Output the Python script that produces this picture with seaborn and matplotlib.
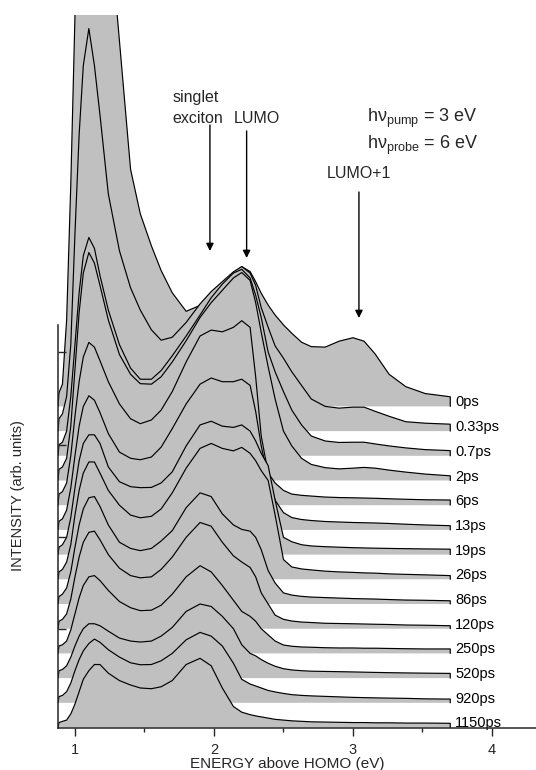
import matplotlib
matplotlib.use("Agg")
import matplotlib.pyplot as plt
import seaborn as sns
import pandas as pd

# ---------------- data ----------------
energy = [0.878, 0.885, 0.91, 0.94, 0.97, 1.00, 1.03, 1.06, 1.10, 1.14, 1.18, 1.24,
          1.32, 1.40, 1.47, 1.55, 1.62, 1.70, 1.80, 1.90, 1.98, 2.06, 2.14, 2.20,
          2.26, 2.30, 2.34, 2.39, 2.44, 2.50, 2.56, 2.63, 2.70, 2.80, 2.90, 3.00,
          3.08, 3.16, 3.26, 3.38, 3.52, 3.70]

delays = ["0ps", "0.33ps", "0.7ps", "2ps", "6ps", "13ps", "19ps", "26ps",
          "86ps", "120ps", "250ps", "520ps", "920ps", "1150ps"]

s_0ps = [0.0, 0.55, 0.9, 3.5, 9.0, 15.8, 21.0, 24.0, 25.5, 25.0, 23.5, 20.0,
         14.8, 9.6, 7.8, 6.5, 5.5, 4.6, 3.85, 4.09, 4.6, 4.9, 5.39, 5.66,
         5.46, 5.05, 4.58, 4.1, 3.7, 3.3, 2.96, 2.6, 2.42, 2.4, 2.64, 2.78,
         2.64, 2.12, 1.3, 0.8, 0.52, 0.39]
s_033ps = [0.0, 0.5, 0.7, 1.4, 3.5, 8.0, 12.0, 14.8, 16.3, 14.8, 12.8, 9.6,
           7.3, 5.8, 4.9, 4.1, 3.68, 3.8, 4.4, 5.15, 5.65, 6.05, 6.45, 6.66,
           6.4, 5.9, 5.0, 4.2, 3.45, 2.95, 2.4, 1.85, 1.3, 1.0, 0.93, 0.97,
           0.97, 0.8, 0.6, 0.38, 0.32, 0.28]
s_07ps = [0.0, 0.45, 0.55, 1.0, 2.4, 4.5, 6.6, 8.1, 8.84, 8.4, 7.3, 5.9,
          4.5, 3.55, 3.1, 3.1, 3.45, 4.05, 4.85, 5.7, 6.4, 6.95, 7.4, 7.55,
          7.2, 6.5, 5.6, 4.2, 3.4, 2.6, 1.85, 1.25, 0.8, 0.6, 0.54, 0.55,
          0.55, 0.48, 0.4, 0.32, 0.25, 0.21]
s_2ps = [0.0, 0.45, 0.55, 0.9, 2.2, 4.5, 6.8, 8.4, 9.23, 8.8, 7.9, 6.5,
         5.1, 4.3, 3.92, 3.9, 4.2, 4.8, 5.66, 6.6, 7.2, 7.7, 8.2, 8.42,
         8.1, 7.2, 6.0, 4.6, 3.3, 2.0, 1.4, 0.9, 0.65, 0.52, 0.47, 0.5,
         0.53, 0.5, 0.42, 0.34, 0.26, 0.19]
s_6ps = [0.0, 0.45, 0.55, 0.9, 2.0, 3.6, 5.0, 6.0, 6.59, 6.4, 5.85, 5.0,
         4.1, 3.5, 3.3, 3.45, 3.85, 4.6, 5.8, 6.85, 7.09, 7.02, 7.2, 7.47,
         7.2, 5.2, 2.8, 1.3, 0.9, 0.6, 0.45, 0.4, 0.37, 0.33, 0.31, 0.3,
         0.29, 0.28, 0.26, 0.24, 0.22, 0.21]
s_13ps = [0.0, 0.35, 0.45, 0.8, 1.7, 3.0, 4.2, 5.0, 5.43, 5.25, 4.75, 3.9,
          3.15, 2.9, 2.84, 2.95, 3.35, 4.1, 5.1, 5.9, 6.15, 6.0, 6.0, 6.1,
          5.85, 4.8, 3.4, 2.1, 1.2, 0.7, 0.5, 0.42, 0.38, 0.34, 0.32, 0.3,
          0.29, 0.28, 0.26, 0.23, 0.2, 0.17]
s_19ps = [0.0, 0.3, 0.4, 0.7, 1.5, 2.7, 3.8, 4.5, 4.85, 4.85, 4.5, 3.55,
          2.95, 2.75, 2.71, 2.72, 2.9, 3.35, 4.4, 5.25, 5.4, 5.2, 5.15, 5.25,
          5.0, 4.6, 4.1, 3.6, 2.2, 0.7, 0.52, 0.4, 0.35, 0.32, 0.3, 0.28,
          0.27, 0.26, 0.25, 0.24, 0.23, 0.22]
s_26ps = [0.0, 0.3, 0.4, 0.7, 1.4, 2.6, 3.6, 4.3, 4.75, 4.75, 4.3, 3.6,
          3.0, 2.6, 2.49, 2.55, 2.85, 3.5, 4.5, 5.3, 5.5, 5.3, 5.2, 5.34,
          5.1, 4.8, 4.4, 4.0, 2.6, 0.8, 0.5, 0.42, 0.38, 0.33, 0.3, 0.28,
          0.26, 0.25, 0.22, 0.2, 0.18, 0.15]
s_86ps = [0.0, 0.3, 0.4, 0.65, 1.3, 2.3, 3.2, 3.85, 4.3, 4.35, 3.95, 3.2,
          2.5, 2.25, 2.16, 2.25, 2.55, 2.97, 3.9, 4.5, 4.35, 3.65, 3.2, 3.02,
          2.95, 2.7, 2.2, 1.35, 0.85, 0.45, 0.36, 0.31, 0.28, 0.26, 0.24, 0.22,
          0.21, 0.2, 0.18, 0.16, 0.15, 0.13]
s_120ps = [0.0, 0.3, 0.38, 0.6, 1.2, 2.1, 2.9, 3.5, 3.9, 3.95, 3.6, 3.0,
           2.45, 2.15, 2.06, 2.1, 2.4, 2.9, 3.7, 4.3, 4.15, 3.5, 2.95, 2.7,
           2.48, 2.1, 1.45, 1.0, 0.55, 0.38, 0.31, 0.27, 0.25, 0.22, 0.21, 0.2,
           0.19, 0.18, 0.17, 0.15, 0.14, 0.12]
s_250ps = [0.0, 0.3, 0.35, 0.5, 0.95, 1.6, 2.25, 2.75, 3.1, 3.15, 2.95, 2.55,
           2.1, 1.85, 1.73, 1.75, 1.95, 2.4, 3.1, 3.55, 3.3, 2.75, 2.15, 1.7,
           1.5, 1.3, 1.0, 0.75, 0.5, 0.34, 0.29, 0.26, 0.25, 0.23, 0.22, 0.22,
           0.21, 0.21, 0.2, 0.19, 0.18, 0.18]
s_520ps = [0.0, 0.3, 0.35, 0.5, 0.85, 1.3, 1.7, 2.0, 2.2, 2.2, 2.12, 1.9,
           1.62, 1.5, 1.46, 1.5, 1.7, 2.05, 2.7, 3.0, 2.9, 2.5, 2.0, 1.35,
           1.0, 0.9, 0.75, 0.6, 0.48, 0.38, 0.33, 0.3, 0.28, 0.27, 0.26, 0.25,
           0.24, 0.23, 0.22, 0.21, 0.2, 0.19]
s_920ps = [0.0, 0.25, 0.3, 0.45, 0.8, 1.3, 1.75, 2.1, 2.4, 2.58, 2.45, 2.15,
           1.85, 1.62, 1.54, 1.55, 1.7, 2.0, 2.55, 2.85, 2.7, 2.3, 1.6, 0.95,
           0.76, 0.68, 0.6, 0.5, 0.44, 0.38, 0.33, 0.3, 0.28, 0.26, 0.24, 0.22,
           0.21, 0.2, 0.19, 0.18, 0.16, 0.15]
s_1150ps = [0.0, 0.2, 0.25, 0.3, 0.55, 0.95, 1.45, 1.95, 2.3, 2.55, 2.55, 2.2,
            1.9, 1.72, 1.6, 1.57, 1.65, 1.9, 2.55, 2.8, 2.5, 1.6, 0.85, 0.62,
            0.52, 0.47, 0.43, 0.38, 0.33, 0.3, 0.27, 0.25, 0.23, 0.22, 0.21, 0.2,
            0.2, 0.19, 0.19, 0.18, 0.18, 0.17]

spectra = [s_0ps, s_033ps, s_07ps, s_2ps, s_6ps, s_13ps, s_19ps, s_26ps,
           s_86ps, s_120ps, s_250ps, s_520ps, s_920ps, s_1150ps]

xtick_vals = [1, 2, 3, 4]
xtick_labels = ["1", "2", "3", "4"]

# ---------------- style ----------------
sns.set_style("ticks")
plt.rcParams["font.family"] = ["Liberation Sans", "DejaVu Sans"]
plt.rcParams["mathtext.fontset"] = "custom"
plt.rcParams["mathtext.rm"] = "Liberation Sans"
plt.rcParams["mathtext.it"] = "Liberation Sans"
plt.rcParams["mathtext.bf"] = "Liberation Sans:bold"

W, H = 536, 770
fig = plt.figure(figsize=(W / 100, H / 100), dpi=100)
ax_l, ax_r, ax_b, ax_t = 58, 536, 727.5, 15
ax = fig.add_axes([ax_l / W, (H - ax_b) / H, (ax_r - ax_l) / W, (ax_b - ax_t) / H])

px_per_unit = 24.7
px_per_ev = 139.0
x0 = 0.878
ax.set_xlim(x0, x0 + (ax_r - ax_l) / px_per_ev)
ax.set_ylim(0, (ax_b - ax_t) / px_per_unit)

fill_col = "#c0c0c0"
n = len(spectra)
for k, (lab, vals) in enumerate(zip(delays, spectra)):
    base = float(n - 1 - k)
    df = pd.DataFrame({"E": energy, "I": [base + v for v in vals]})
    z = 1.0 + k * 0.06
    ax.fill_between(df["E"], base, df["I"], color=fill_col, lw=0,
                    edgecolor="none", zorder=z)
    line_df = pd.concat([df, pd.DataFrame({"E": [energy[-1]], "I": [base]})],
                        ignore_index=True)
    sns.lineplot(data=line_df, x="E", y="I", sort=False, estimator=None,
                 color="black", lw=0.85, ax=ax, zorder=z + 0.03)
    ax.annotate(lab, xy=(energy[-1], base), xytext=(3.5, 0),
                textcoords="offset points", ha="left", va="baseline",
                fontsize=10.5, color="black")

# ---------------- axes decoration ----------------
ax.set_axisbelow(False)
sns.despine(ax=ax, top=True, right=True)
for sp in ("left", "bottom"):
    ax.spines[sp].set_linewidth(1.1)
    ax.spines[sp].set_zorder(50)
ax.spines["left"].set_bounds(0, (ax_b - 325) / px_per_unit)

ax.set_xticks(xtick_vals)
ax.set_xticklabels(xtick_labels, fontsize=10.5)
ax.set_xticks([1.5, 2.5, 3.5], minor=True)
ax.tick_params(axis="x", which="major", direction="out", length=6, width=1, pad=5)
ax.tick_params(axis="x", which="minor", direction="out", length=3, width=1)
ax.set_yticks([(ax_b - p) / px_per_unit for p in (629, 537, 445, 352)])
ax.set_yticklabels([])
ax.tick_params(axis="y", which="major", direction="in", length=6, width=1)

ax.set_xlabel("ENERGY above HOMO (eV)", fontsize=11, va="baseline")
ax.xaxis.set_label_coords((287 - ax_l) / (ax_r - ax_l), (ax_b - 768) / (ax_b - ax_t))
ax.set_ylabel("INTENSITY (arb. units)", fontsize=10.5, va="center", ha="center")
ax.yaxis.set_label_coords((18 - ax_l) / (ax_r - ax_l), (ax_b - 496) / (ax_b - ax_t))

# ---------------- annotations ----------------
def ypx(p):
    return (ax_b - p) / px_per_unit

def xpx(p):
    return 1 + (p - 75) / px_per_ev

arrow_kw = dict(arrowstyle="-|>", color="black", lw=1.0, mutation_scale=11,
                shrinkA=0, shrinkB=0)
exciton_E, lumo_E, lumo1_E = 1.971, 2.235, 3.043
ax.annotate("", xy=(exciton_E, ypx(251)), xytext=(exciton_E, ypx(125)),
            arrowprops=arrow_kw, zorder=60)
ax.annotate("", xy=(lumo_E, ypx(258)), xytext=(lumo_E, ypx(131)),
            arrowprops=arrow_kw, zorder=60)
ax.annotate("", xy=(lumo1_E, ypx(318)), xytext=(lumo1_E, ypx(192)),
            arrowprops=arrow_kw, zorder=60)

ax.text(xpx(172.7), ypx(102), "singlet", fontsize=11.5, ha="left", va="baseline")
ax.text(xpx(172.7), ypx(123), "exciton", fontsize=11.5, ha="left", va="baseline")
ax.text(xpx(233.5), ypx(123), "LUMO", fontsize=11.5, ha="left", va="baseline")
ax.text(xpx(327), ypx(177.5), "LUMO+1", fontsize=11.5, ha="left", va="baseline")
ax.text(xpx(366.7), ypx(121.7), r"h$\nu_{\mathrm{pump}}$ = 3 eV", fontsize=13,
        ha="left", va="baseline")
ax.text(xpx(366.7), ypx(149.3), r"h$\nu_{\mathrm{probe}}$ = 6 eV", fontsize=13,
        ha="left", va="baseline")

fig.savefig("out.png", dpi=100)
